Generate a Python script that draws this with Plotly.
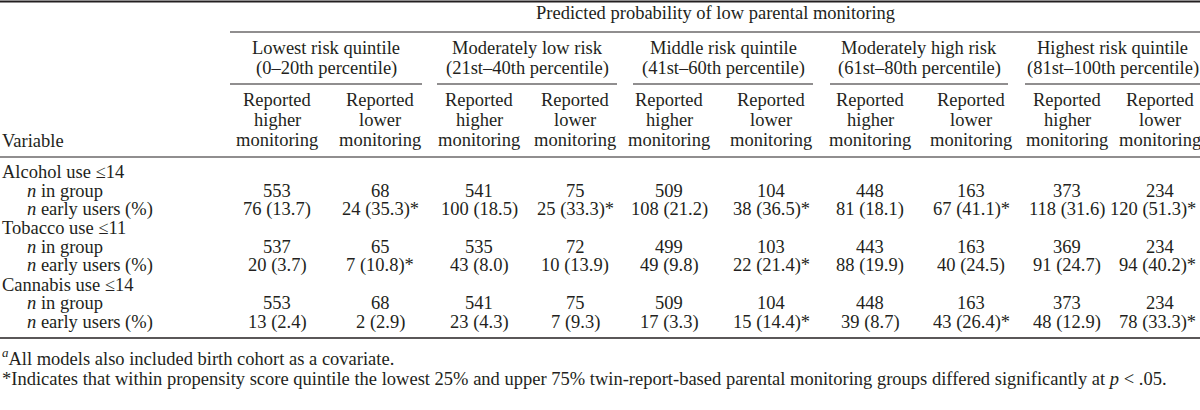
import plotly.graph_objects as go

# ---------------- data ----------------
spanner = "Predicted probability of low parental monitoring"
quintiles = ["Lowest risk quintile", "Moderately low risk", "Middle risk quintile",
             "Moderately high risk", "Highest risk quintile"]
percentiles = ["(0–20th percentile)", "(21st–40th percentile)", "(41st–60th percentile)",
               "(61st–80th percentile)", "(81st–100th percentile)"]
sub_line1 = ["Reported", "Reported"]
sub_line2 = ["higher", "lower"]
sub_line3 = ["monitoring", "monitoring"]

variables = ["Alcohol use ≤14", "Tobacco use ≤11", "Cannabis use ≤14"]

alcohol_n = [553, 68, 541, 75, 509, 104, 448, 163, 373, 234]
alcohol_early = [76, 24, 100, 25, 108, 38, 81, 67, 118, 120]
alcohol_pct = [13.7, 35.3, 18.5, 33.3, 21.2, 36.5, 18.1, 41.1, 31.6, 51.3]
alcohol_sig = [0, 1, 0, 1, 0, 1, 0, 1, 0, 1]

tobacco_n = [537, 65, 535, 72, 499, 103, 443, 163, 369, 234]
tobacco_early = [20, 7, 43, 10, 49, 22, 88, 40, 91, 94]
tobacco_pct = [3.7, 10.8, 8.0, 13.9, 9.8, 21.4, 19.9, 24.5, 24.7, 40.2]
tobacco_sig = [0, 1, 0, 0, 0, 1, 0, 0, 0, 1]

cannabis_n = [553, 68, 541, 75, 509, 104, 448, 163, 373, 234]
cannabis_early = [13, 2, 23, 7, 17, 15, 39, 43, 48, 78]
cannabis_pct = [2.4, 2.9, 4.3, 9.3, 3.3, 14.4, 8.7, 26.4, 12.9, 33.3]
cannabis_sig = [0, 0, 0, 0, 0, 1, 0, 1, 0, 1]

footnote_a = "<sup><i>a</i></sup>All models also included birth cohort as a covariate."
footnote_star = ("*Indicates that within propensity score quintile the lowest 25% and upper 75% "
                 "twin-report-based parental monitoring groups differed significantly at <i>p</i> &lt; .05.")

# ---------------- layout geometry ----------------
W, H = 1200, 410
FONT = "Liberation Serif, Times New Roman, serif"
FS = 18.5
col_x = [277, 380, 479, 575, 669, 771, 870, 971, 1067, 1160]
group_line = [(230, 422), (437, 617), (633, 813), (830, 1008), (1025, 1200)]
row_y0, row_dy = 172, 18.75

ann = []
shapes = []

def text(x, y, s, anchor="center", size=FS):
    ann.append(dict(x=x, y=y, xref="x", yref="y", text=s, showarrow=False,
                    xanchor=anchor, yanchor="middle",
                    font=dict(family=FONT, size=size, color="#231f20")))

def hline(x0, x1, y, w=1.0):
    shapes.append(dict(type="line", xref="x", yref="y", x0=x0, x1=x1, y0=y, y1=y,
                       line=dict(color="#231f20", width=w)))

# rules
hline(0, W, 1.5, 2.2)
hline(230, W, 32, 1.2)
for a, b in group_line:
    hline(a, b, 84, 1.2)
hline(0, W, 157, 1.2)
hline(0, W, 338, 1.6)

# header text
text(715, 13, spanner)
for g in range(5):
    cx = (group_line[g][0] + group_line[g][1]) / 2
    text(cx, 48, quintiles[g])
    text(cx, 68, percentiles[g])
    for k in range(2):
        x = col_x[2 * g + k]
        text(x, 100, sub_line1[k])
        text(x, 120, sub_line2[k])
        text(x, 140, sub_line3[k])
text(0, 141, "Variable", anchor="left")

# body
blocks = [(alcohol_n, alcohol_early, alcohol_pct, alcohol_sig),
          (tobacco_n, tobacco_early, tobacco_pct, tobacco_sig),
          (cannabis_n, cannabis_early, cannabis_pct, cannabis_sig)]
r = 0
for v, (ns, es, ps, ss) in zip(variables, blocks):
    y = row_y0 + r * row_dy
    text(0, y, v, anchor="left")
    y1 = row_y0 + (r + 1) * row_dy
    y2 = row_y0 + (r + 2) * row_dy
    text(25, y1, "<i>n</i> in group", anchor="left")
    text(25, y2, "<i>n</i> early users (%)", anchor="left")
    for i in range(10):
        text(col_x[i], y1, str(ns[i]))
        s = f"{es[i]} ({ps[i]:.1f})" + ("*" if ss[i] else "")
        if i == 9 and ss[i]:
            text(1198, y2, s, anchor="right")
        else:
            text(col_x[i], y2, s)
    r += 3

text(0, 357, footnote_a, anchor="left")
text(0, 379, footnote_star, anchor="left")

fig = go.Figure()
fig.update_layout(
    width=W, height=H, margin=dict(l=0, r=0, t=0, b=0),
    paper_bgcolor="white", plot_bgcolor="white",
    xaxis=dict(range=[0, W], visible=False, fixedrange=True),
    yaxis=dict(range=[H, 0], visible=False, fixedrange=True),
    annotations=ann, shapes=shapes, showlegend=False,
)
fig.write_html("out.html", config={"displayModeBar": False},
               post_script="document.body.style.margin='0';document.body.style.overflow='hidden';")
